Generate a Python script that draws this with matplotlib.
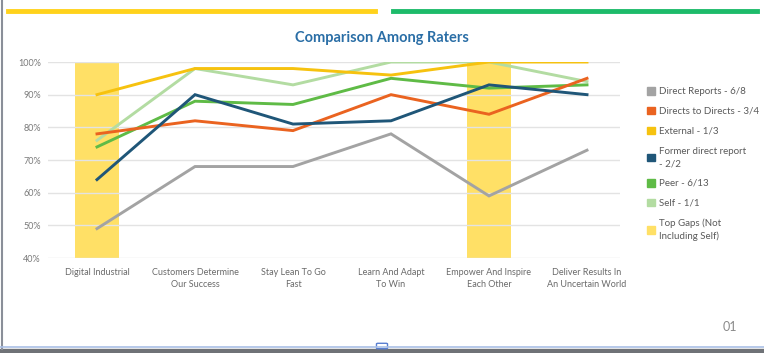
import matplotlib
matplotlib.use("Agg")
import matplotlib.pyplot as plt
from matplotlib.lines import Line2D
from matplotlib.patches import Rectangle, FancyBboxPatch

categories = ["Digital Industrial", "Customers Determine\nOur Success", "Stay Lean To Go\nFast",
              "Learn And Adapt\nTo Win", "Empower And Inspire\nEach Other", "Deliver Results In\nAn Uncertain World"]
direct_reports = [49, 68, 68, 78, 59, 73]
directs_to_directs = [78, 82, 79, 90, 84, 95]
external = [90, 98, 98, 96, 100, 100]
former_direct = [64, 90, 81, 82, 93, 90]
peer = [74, 88, 87, 95, 92, 93]
self_vals = [76, 98, 93, 100, 100, 94]
top_gaps = [100, None, None, None, 100, None]
yticks = [40, 50, 60, 70, 80, 90, 100]

series = [
    ("Direct Reports - 6/8", direct_reports, "#a3a3a3"),
    ("Directs to Directs - 3/4", directs_to_directs, "#ea6320"),
    ("External - 1/3", external, "#f6c20f"),
    ("Former direct report\n- 2/2", former_direct, "#1f5678"),
    ("Peer - 6/13", peer, "#5fbb46"),
    ("Self - 1/1", self_vals, "#b3dca2"),
]
gap_color = "#ffe066"

plt.rcParams['font.family'] = ['Lato', 'DejaVu Sans']
fig = plt.figure(figsize=(7.64, 3.53), dpi=100)
W, H = 764, 353

# axes
ax = fig.add_axes([48 / W, 1 - 258 / H, (620 - 48) / W, (258 - 62) / H])
x = list(range(len(categories)))
gx = [i for i, v in enumerate(top_gaps) if v is not None]
gv = [v for v in top_gaps if v is not None]
ax.bar(gx, gv, width=0.45, color=gap_color, zorder=1)
draw_order = [5, 2, 4, 1, 3, 0]
for idx in draw_order:
    name, vals, col = series[idx]
    ax.plot(x, vals, color=col, lw=2.1, zorder=3, solid_joinstyle='miter')
ax.set_ylim(40, 100)
ax.set_xlim(-0.5, (620 - 97) / 98.0)
ax.set_yticks(yticks)
ax.set_yticklabels([f"{t}%" for t in yticks], color="#7a7a7a", fontsize=6.5)
ax.set_xticks(x)
ax.set_xticklabels(categories, color="#6a6a6a", fontsize=6.5, linespacing=1.5)
ax.grid(axis='y', color="#e3e3e3", lw=1, zorder=0)
for s in ax.spines.values():
    s.set_visible(False)
ax.tick_params(length=0, pad=5)
ax.tick_params(axis='x', pad=7)

# legend
handles = [Rectangle((0, 0), 1, 1, color=c) for _, _, c in series] + [Rectangle((0, 0), 1, 1, color=gap_color)]
labels = [n for n, _, _ in series] + ["Top Gaps (Not\nIncluding Self)"]
leg = fig.legend(handles, labels, loc='upper left', bbox_to_anchor=(638 / W, 1 - 78 / H),
                 frameon=False, fontsize=7, handlelength=0.85, handleheight=0.85,
                 handletextpad=0.4, labelspacing=1.1, labelcolor="#5a5a5a")
for t in leg.get_texts():
    t.set_linespacing(1.5)

# title
fig.text(382 / W, 1 - 38 / H, "Comparison Among Raters", ha='center', va='center',
         fontsize=10.5, fontweight='bold', color="#2a6ea6")

# decorative top bars
fig.add_artist(Line2D([8 / W, 375 / W], [1 - 11 / H] * 2, color="#ffd21c", lw=3.5))
fig.add_artist(Line2D([393 / W, 757 / W], [1 - 11 / H] * 2, color="#1dbb6a", lw=3.5))

# frame
fig.add_artist(Line2D([1.5 / W, 1.5 / W], [4 / H, 1], color="#8a8f99", lw=1.5))
fig.add_artist(Rectangle((0, 0), 1, 4.5 / H, transform=fig.transFigure, color="#6f7277"))
fig.add_artist(Line2D([0, 1], [6 / H, 6 / H], color="#aac0e6", lw=1.2))
fig.add_artist(FancyBboxPatch((378 / W, 5 / H), 8 / W, 4 / H, boxstyle="round,pad=0.002",
                              transform=fig.transFigure, fc="white", ec="#5a7fd0", lw=1.0))

fig.text(730 / W, 1 - 327 / H, "01", ha='center', va='center', fontsize=9, color="#8a8a8a")

fig.savefig("out.png", dpi=100)
